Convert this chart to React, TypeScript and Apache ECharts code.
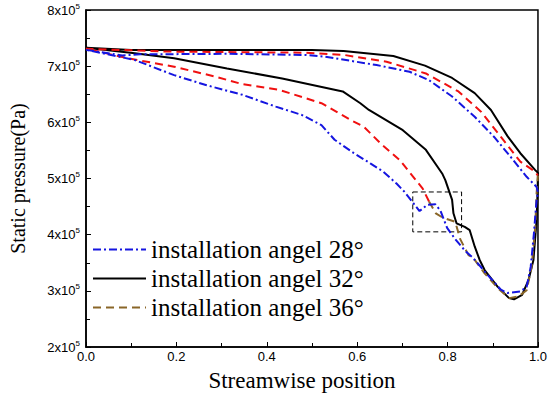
import React, { useEffect, useRef } from "react";
import * as echarts from "echarts";

// y values in units of 10^5 Pa, x = streamwise position
const xTickValues = [0, 0.2, 0.4, 0.6, 0.8, 1.0];
const yTickExponent = 5;

const seriesNames = [
  "installation angel 28°",
  "installation angel 32°",
  "installation angel 36°",
];

// 28°: upper branch then lower branch (loop)
const angle28: [number, number][] = [
  [0, 7.29], [0.08, 7.19], [0.12, 7.21], [0.312, 7.22], [0.485, 7.2], [0.528, 7.17],
  [0.643, 7.02], [0.716, 6.9], [0.759, 6.75], [0.81, 6.46], [0.86, 6.1],
  [0.903, 5.74], [0.939, 5.39], [0.975, 5.03], [0.997, 4.85], [1, 4.75],
  [0.997, 4.62], [0.991, 4.02], [0.984, 3.43], [0.975, 3.07], [0.961, 2.99],
  [0.932, 2.96], [0.918, 3.02], [0.889, 3.28], [0.857, 3.58], [0.838, 3.72],
  [0.817, 3.92], [0.799, 4.12], [0.784, 4.43], [0.773, 4.54], [0.755, 4.53],
  [0.738, 4.42], [0.705, 4.76], [0.687, 4.91], [0.658, 5.12], [0.629, 5.27],
  [0.593, 5.45], [0.55, 5.69], [0.521, 5.95], [0.478, 6.13], [0.42, 6.28],
  [0.346, 6.49], [0.267, 6.66], [0.195, 6.84], [0.108, 7.11], [0, 7.29],
];

// 32°
const angle32: [number, number][] = [
  [0, 7.33], [0.1, 7.29], [0.3, 7.29], [0.5, 7.29], [0.57, 7.27], [0.68, 7.18],
  [0.75, 7.01], [0.81, 6.79], [0.86, 6.52], [0.896, 6.22], [0.933, 5.75],
  [0.961, 5.45], [0.994, 5.15], [1, 5.1],
  [0.999, 4.74], [0.997, 4.26], [0.99, 3.55], [0.979, 3.19], [0.965, 2.93],
  [0.947, 2.85], [0.936, 2.87], [0.911, 3.07], [0.882, 3.37], [0.871, 3.55],
  [0.86, 3.79], [0.849, 4.08], [0.838, 4.14], [0.82, 4.2], [0.813, 4.38],
  [0.81, 4.62], [0.795, 4.97], [0.788, 5.09], [0.752, 5.51], [0.701, 5.86],
  [0.626, 6.22], [0.607, 6.34], [0.568, 6.55], [0.434, 6.78], [0.312, 6.96],
  [0.195, 7.14], [0.108, 7.23], [0, 7.33],
];

// 36°: red portion (lower branch up to the box, then the upper branch)
const angle36Red: [number, number][] = [
  [0.759, 4.59], [0.745, 4.82], [0.694, 5.33], [0.651, 5.63], [0.615, 5.92],
  [0.586, 6.04], [0.521, 6.34], [0.427, 6.58], [0.346, 6.68], [0.288, 6.81],
  [0.195, 6.99], [0.093, 7.14], [0, 7.31],
  [0.18, 7.26], [0.485, 7.24], [0.571, 7.2], [0.665, 7.08], [0.752, 6.87],
  [0.824, 6.55], [0.874, 6.19], [0.918, 5.74], [0.961, 5.3], [0.994, 5.12], [1, 5.05],
];
// 36°: brown portion (lower branch through the dip)
const angle36Brown: [number, number][] = [
  [0.759, 4.59], [0.774, 4.38], [0.79, 4.3], [0.817, 4.23], [0.828, 3.92],
  [0.846, 3.64], [0.86, 3.55], [0.882, 3.31], [0.911, 3.05], [0.936, 2.87],
  [0.957, 2.9], [0.975, 3.01], [0.986, 3.43], [0.994, 4.14], [0.997, 4.74], [1, 5.05],
];

// dashed highlight box [x0, y0, x1, y1]
const boxCorners = [0.723, 4.76, 0.831, 4.05];

export default function App() {
  const ref = useRef<HTMLDivElement>(null);
  useEffect(() => {
    document.body.style.margin = "0";
    if (!ref.current) return;
    const chart = echarts.init(ref.current, undefined, { renderer: "svg" });
    const serif = "Liberation Serif";
    const sans = "Liberation Sans";
    chart.setOption({
      animation: false,
      backgroundColor: "#fff",
      grid: {
        left: 76,
        top: 10,
        right: 12,
        bottom: 51,
        show: true,
        borderColor: "#000",
        borderWidth: 1.5,
      },
      legend: {
        orient: "vertical",
        left: 87,
        top: 232,
        itemWidth: 53,
        itemHeight: 14,
        itemGap: 4,
        data: seriesNames,
        itemStyle: { opacity: 0 },
        textStyle: { fontFamily: serif, fontSize: 25, color: "#000", lineHeight: 25 },
      },
      xAxis: {
        type: "value",
        min: 0,
        max: 1,
        interval: 0.2,
        name: "Streamwise position",
        nameLocation: "middle",
        nameGap: 22,
        nameTextStyle: { fontFamily: serif, fontSize: 23, color: "#000", padding: [0, 20, 0, 0] },
        axisLine: { lineStyle: { color: "#000", width: 1.5 } },
        axisTick: { inside: true, length: 5, lineStyle: { color: "#000" } },
        minorTick: { show: true, splitNumber: 2, length: 4, lineStyle: { color: "#000" } },
        splitLine: { show: false },
        axisLabel: {
          margin: 3,
          fontFamily: sans,
          fontSize: 13,
          color: "#000",
          formatter: (v: number) =>
            xTickValues.some((t) => Math.abs(t - v) < 1e-9) ? v.toFixed(1) : "",
        },
      },
      yAxis: {
        type: "value",
        min: 2,
        max: 8,
        interval: 1,
        name: "Static pressure(Pa)",
        nameLocation: "middle",
        nameGap: 58,
        nameTextStyle: { fontFamily: serif, fontSize: 20, color: "#000" },
        axisLine: { show: true, lineStyle: { color: "#000", width: 1.5 } },
        axisTick: { inside: true, length: 5, lineStyle: { color: "#000" } },
        minorTick: { show: true, splitNumber: 2, length: 4, lineStyle: { color: "#000" } },
        splitLine: { show: false },
        axisLabel: {
          margin: 6,
          formatter: (v: number) => `{a|${v}x10}{b|${yTickExponent}}`,
          rich: {
            a: { fontFamily: sans, fontSize: 13, color: "#000", lineHeight: 16 },
            b: { fontFamily: sans, fontSize: 8, color: "#000", lineHeight: 8, verticalAlign: "top" },
          },
        },
      },
      series: [
        {
          name: seriesNames[0],
          type: "line",
          data: angle28,
          symbol: "none",
          z: 3,
          lineStyle: { color: "#1515e0", width: 2, type: [8, 3, 2, 3] },
          itemStyle: { color: "#1515e0" },
        },
        {
          name: seriesNames[1],
          type: "line",
          data: angle32,
          symbol: "none",
          z: 2,
          lineStyle: { color: "#000", width: 2, type: "solid" },
          itemStyle: { color: "#000" },
          markArea: {
            silent: true,
            itemStyle: {
              color: "rgba(0,0,0,0)",
              borderColor: "#000",
              borderWidth: 1,
              borderType: [5, 3],
            },
            data: [[{ coord: [boxCorners[0], boxCorners[1]] }, { coord: [boxCorners[2], boxCorners[3]] }]],
          },
        },
        {
          name: "36-upper",
          type: "line",
          data: angle36Red,
          symbol: "none",
          z: 2,
          lineStyle: { color: "#f01010", width: 2, type: [8, 5] },
          itemStyle: { color: "#f01010" },
        },
        {
          name: seriesNames[2],
          type: "line",
          data: angle36Brown,
          symbol: "none",
          z: 2,
          lineStyle: { color: "#8a6628", width: 2, type: [8, 5] },
          itemStyle: { color: "#8a6628" },
        },
      ],
    });
    return () => chart.dispose();
  }, []);
  return <div ref={ref} style={{ width: 550, height: 398 }} />;
}
